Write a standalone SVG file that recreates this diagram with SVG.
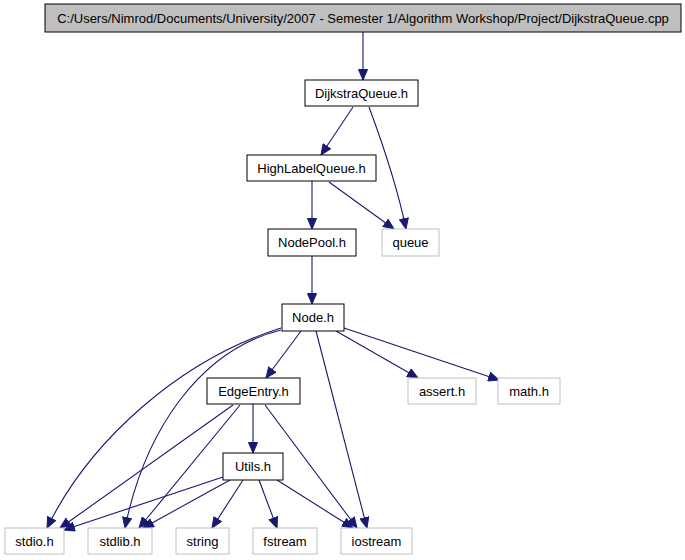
<svg xmlns="http://www.w3.org/2000/svg" width="685" height="560" viewBox="0 0 685 560">
<style>
  .n rect { fill: #ffffff; stroke: #000000; stroke-width: 1; }
  .x rect { fill: #ffffff; stroke: #bfbfbf; stroke-width: 1; }
  .root rect { fill: #bfbfbf; stroke: #000000; stroke-width: 1; }
  text { font-family: "Liberation Sans", Arial, sans-serif; font-size: 13px; fill: #000000; text-anchor: middle; }
  #edges path { fill: none; stroke: #191970; stroke-width: 1.1; marker-end: url(#ah); }
</style>
<defs>
  <marker id="ah" markerWidth="12" markerHeight="10" refX="11" refY="5" orient="auto" markerUnits="userSpaceOnUse">
    <path d="M0.5,0.5 L11,5 L0.5,9.5 z" fill="#191970" stroke="#191970" stroke-width="1"/>
  </marker>
</defs>
<rect width="685" height="560" fill="#ffffff"/>
<g id="edges">
  <path d="M363,32 L363,80"/>
  <path d="M353,107 L321,155"/>
  <path d="M369,107 C385,150 398,190 406,229"/>
  <path d="M312,181 L312,229"/>
  <path d="M329,182 L394,229"/>
  <path d="M312,256 L312,304"/>
  <path d="M301,331 L266,378"/>
  <path d="M336,331 L418,378"/>
  <path d="M344,328 L499,380"/>
  <path d="M316,331 L367,528"/>
  <path d="M281,328 C180,360 90,440 47,528"/>
  <path d="M281,330 C200,350 145,430 125,528"/>
  <path d="M233,405 L60,528"/>
  <path d="M240,405 L139,528"/>
  <path d="M253,404 L253,453"/>
  <path d="M265,405 L357,528"/>
  <path d="M223,477 L64,530"/>
  <path d="M230,480 L143,528"/>
  <path d="M243,480 L212,528"/>
  <path d="M259,480 L277,528"/>
  <path d="M277,480 L353,528"/>
</g>
<g id="root" class="root"><rect x="45" y="4" width="636" height="28"/><text x="363" y="22.5">C:/Users/Nimrod/Documents/University/2007 - Semester 1/Algorithm Workshop/Project/DijkstraQueue.cpp</text></g>
<g id="dijkstraqueue" class="n"><rect x="305" y="80" width="113" height="26"/><text x="361.5" y="97.5">DijkstraQueue.h</text></g>
<g id="highlabelqueue" class="n"><rect x="247" y="155" width="129" height="26"/><text x="311.5" y="172.5">HighLabelQueue.h</text></g>
<g id="nodepool" class="n"><rect x="268" y="229" width="88" height="27"/><text x="312" y="247">NodePool.h</text></g>
<g id="queue" class="x"><rect x="382" y="229" width="57" height="27"/><text x="410.5" y="247">queue</text></g>
<g id="node" class="n"><rect x="282" y="304" width="62" height="27"/><text x="313" y="322">Node.h</text></g>
<g id="edgeentry" class="n"><rect x="207" y="378" width="93" height="26"/><text x="253.5" y="395.5">EdgeEntry.h</text></g>
<g id="assert" class="x"><rect x="408" y="378" width="68" height="26"/><text x="442" y="395.5">assert.h</text></g>
<g id="math" class="x"><rect x="498" y="378" width="62" height="26"/><text x="529" y="395.5">math.h</text></g>
<g id="utils" class="n"><rect x="223" y="453" width="60" height="27"/><text x="253" y="471">Utils.h</text></g>
<g id="stdio" class="x"><rect x="5" y="528" width="59" height="26"/><text x="34.5" y="545.5">stdio.h</text></g>
<g id="stdlib" class="x"><rect x="88" y="528" width="64" height="26"/><text x="120" y="545.5">stdlib.h</text></g>
<g id="string" class="x"><rect x="176" y="528" width="53" height="26"/><text x="202.5" y="545.5">string</text></g>
<g id="fstream" class="x"><rect x="253" y="528" width="64" height="26"/><text x="285" y="545.5">fstream</text></g>
<g id="iostream" class="x"><rect x="341" y="528" width="71" height="26"/><text x="376.5" y="545.5">iostream</text></g>
</svg>
